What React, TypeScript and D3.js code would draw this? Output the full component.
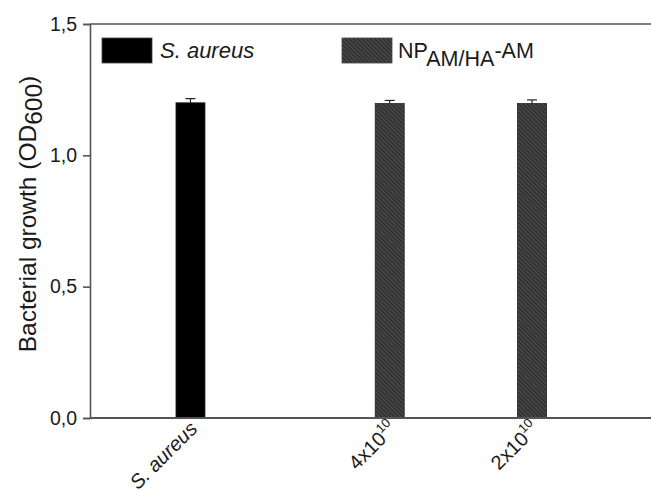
import React, { useEffect, useRef } from "react";
import * as d3 from "d3";

const categories = ["S. aureus", "4x10^10", "2x10^10"];
const catPositions = [1, 2.4, 3.4];
const values = [1.2, 1.197, 1.197];
const errors = [0.016, 0.012, 0.014];
const series = ["control", "np", "np"];
const yTicks = [0, 0.5, 1.0, 1.5];

export default function App() {
  const ref = useRef<SVGSVGElement>(null);

  useEffect(() => {
    const width = 651;
    const height = 493;
    const margin = { top: 24, left: 90, bottom: 75, right: 0 };
    const iwidth = width - margin.left - margin.right;
    const iheight = height - margin.top - margin.bottom;
    const font = "'Liberation Sans', Arial, sans-serif";
    const ink = "#1a1a1a";

    const svg = d3.select(ref.current);
    svg.selectAll("*").remove();
    svg.attr("width", width).attr("height", height);

    const defs = svg.append("defs");
    const pat = defs
      .append("pattern")
      .attr("id", "hatch")
      .attr("patternUnits", "userSpaceOnUse")
      .attr("width", 3)
      .attr("height", 3)
      .attr("patternTransform", "rotate(-45)");
    pat.append("rect").attr("width", 3).attr("height", 3).attr("fill", "#454545");
    pat
      .append("line")
      .attr("x1", 0)
      .attr("y1", 0)
      .attr("x2", 0)
      .attr("y2", 3)
      .attr("stroke", "#151515")
      .attr("stroke-width", 1.2);

    const g = svg
      .append("g")
      .attr("transform", `translate(${margin.left},${margin.top})`);

    const y = d3.scaleLinear().domain([0, 1.5]).range([iheight, 0]);
    const x = d3.scaleLinear().domain([0.294, 4.236]).range([0, iwidth]);
    const barW = 29;

    const fillFor = (s: string) => (s === "control" ? "#000" : "url(#hatch)");

    // bars
    g.selectAll("rect.bar")
      .data(values)
      .enter()
      .append("rect")
      .attr("class", "bar")
      .attr("x", (_, i) => x(catPositions[i]) - barW / 2)
      .attr("y", (d) => y(d))
      .attr("width", barW)
      .attr("height", (d) => iheight - y(d))
      .attr("fill", (_, i) => fillFor(series[i]))
      .attr("stroke", "#222")
      .attr("stroke-width", 0.8);

    // error bars
    const eb = g.selectAll("g.err").data(values).enter().append("g");
    eb.append("line")
      .attr("x1", (_, i) => x(catPositions[i]))
      .attr("x2", (_, i) => x(catPositions[i]))
      .attr("y1", (d) => y(d))
      .attr("y2", (d, i) => y(d + errors[i]))
      .attr("stroke", "#222")
      .attr("stroke-width", 1.2);
    eb.append("line")
      .attr("x1", (_, i) => x(catPositions[i]) - 5)
      .attr("x2", (_, i) => x(catPositions[i]) + 5)
      .attr("y1", (d, i) => y(d + errors[i]))
      .attr("y2", (d, i) => y(d + errors[i]))
      .attr("stroke", "#222")
      .attr("stroke-width", 1.2);

    const axisColor = "#555";

    // y axis
    const yAxis = g
      .append("g")
      .call(
        d3
          .axisLeft(y)
          .tickValues(yTicks)
          .tickSize(7)
          .tickPadding(6)
          .tickFormat((d) => d3.format(".1f")(d as number).replace(".", ","))
      );
    yAxis.select(".domain").attr("stroke", axisColor).attr("stroke-width", 1.6);
    yAxis.selectAll(".tick line").attr("stroke", axisColor).attr("stroke-width", 1.6);
    yAxis
      .selectAll(".tick text")
      .attr("fill", ink)
      .style("font-family", font)
      .style("font-size", "19.5px");

    // bottom axis
    g.append("line")
      .attr("x1", 0)
      .attr("x2", iwidth)
      .attr("y1", iheight)
      .attr("y2", iheight)
      .attr("stroke", axisColor)
      .attr("stroke-width", 1.8);
    // top line
    g.append("line")
      .attr("x1", 0)
      .attr("x2", iwidth)
      .attr("y1", 0)
      .attr("y2", 0)
      .attr("stroke", axisColor)
      .attr("stroke-width", 1.4);

    // x labels
    const xl = g
      .selectAll("text.xl")
      .data(categories)
      .enter()
      .append("text")
      .attr("class", "xl")
      .attr("text-anchor", "end")
      .attr("transform", (_, i) => `translate(${x(catPositions[i]) + 8},${iheight + 12}) rotate(-45)`)
      .attr("fill", ink)
      .style("font-family", font)
      .style("font-size", "20px");
    xl.each(function (d) {
      const t = d3.select(this);
      if (d.includes("^")) {
        const [base, exp] = d.split("^");
        t.append("tspan").text(base);
        t.append("tspan").attr("dy", -9).style("font-size", "13px").text(exp);
      } else {
        t.style("font-style", "italic").text(d);
      }
    });

    // y axis title
    const yt = svg
      .append("text")
      .attr("transform", `translate(36,214) rotate(-90)`)
      .attr("text-anchor", "middle")
      .attr("fill", ink)
      .style("font-family", font)
      .style("font-size", "24.5px");
    yt.append("tspan").text("Bacterial growth (OD");
    yt.append("tspan").attr("dy", 6).text("600");
    yt.append("tspan").attr("dy", -6).text(")");

    // legend
    const leg = svg.append("g").style("font-family", font);
    leg.append("rect")
      .attr("x", 102).attr("y", 38).attr("width", 50).attr("height", 25)
      .attr("fill", "#000").attr("stroke", "#444").attr("stroke-width", 0.8);
    leg.append("text")
      .attr("x", 160).attr("y", 58)
      .style("font-size", "22px").style("font-style", "italic").attr("fill", ink)
      .text("S. aureus");
    leg.append("rect")
      .attr("x", 342).attr("y", 38).attr("width", 50).attr("height", 25)
      .attr("fill", "url(#hatch)").attr("stroke", "#444").attr("stroke-width", 0.8);
    const lt = leg.append("text")
      .attr("x", 398).attr("y", 58)
      .style("font-size", "21.5px").attr("fill", ink);
    lt.append("tspan").text("NP");
    lt.append("tspan").attr("dy", 8).text("AM/HA");
    lt.append("tspan").attr("dy", -8).text("-AM");
  }, []);

  return (
    <div style={{ position: "absolute", left: 0, top: 0 }}>
      <svg ref={ref}></svg>
    </div>
  );
}
